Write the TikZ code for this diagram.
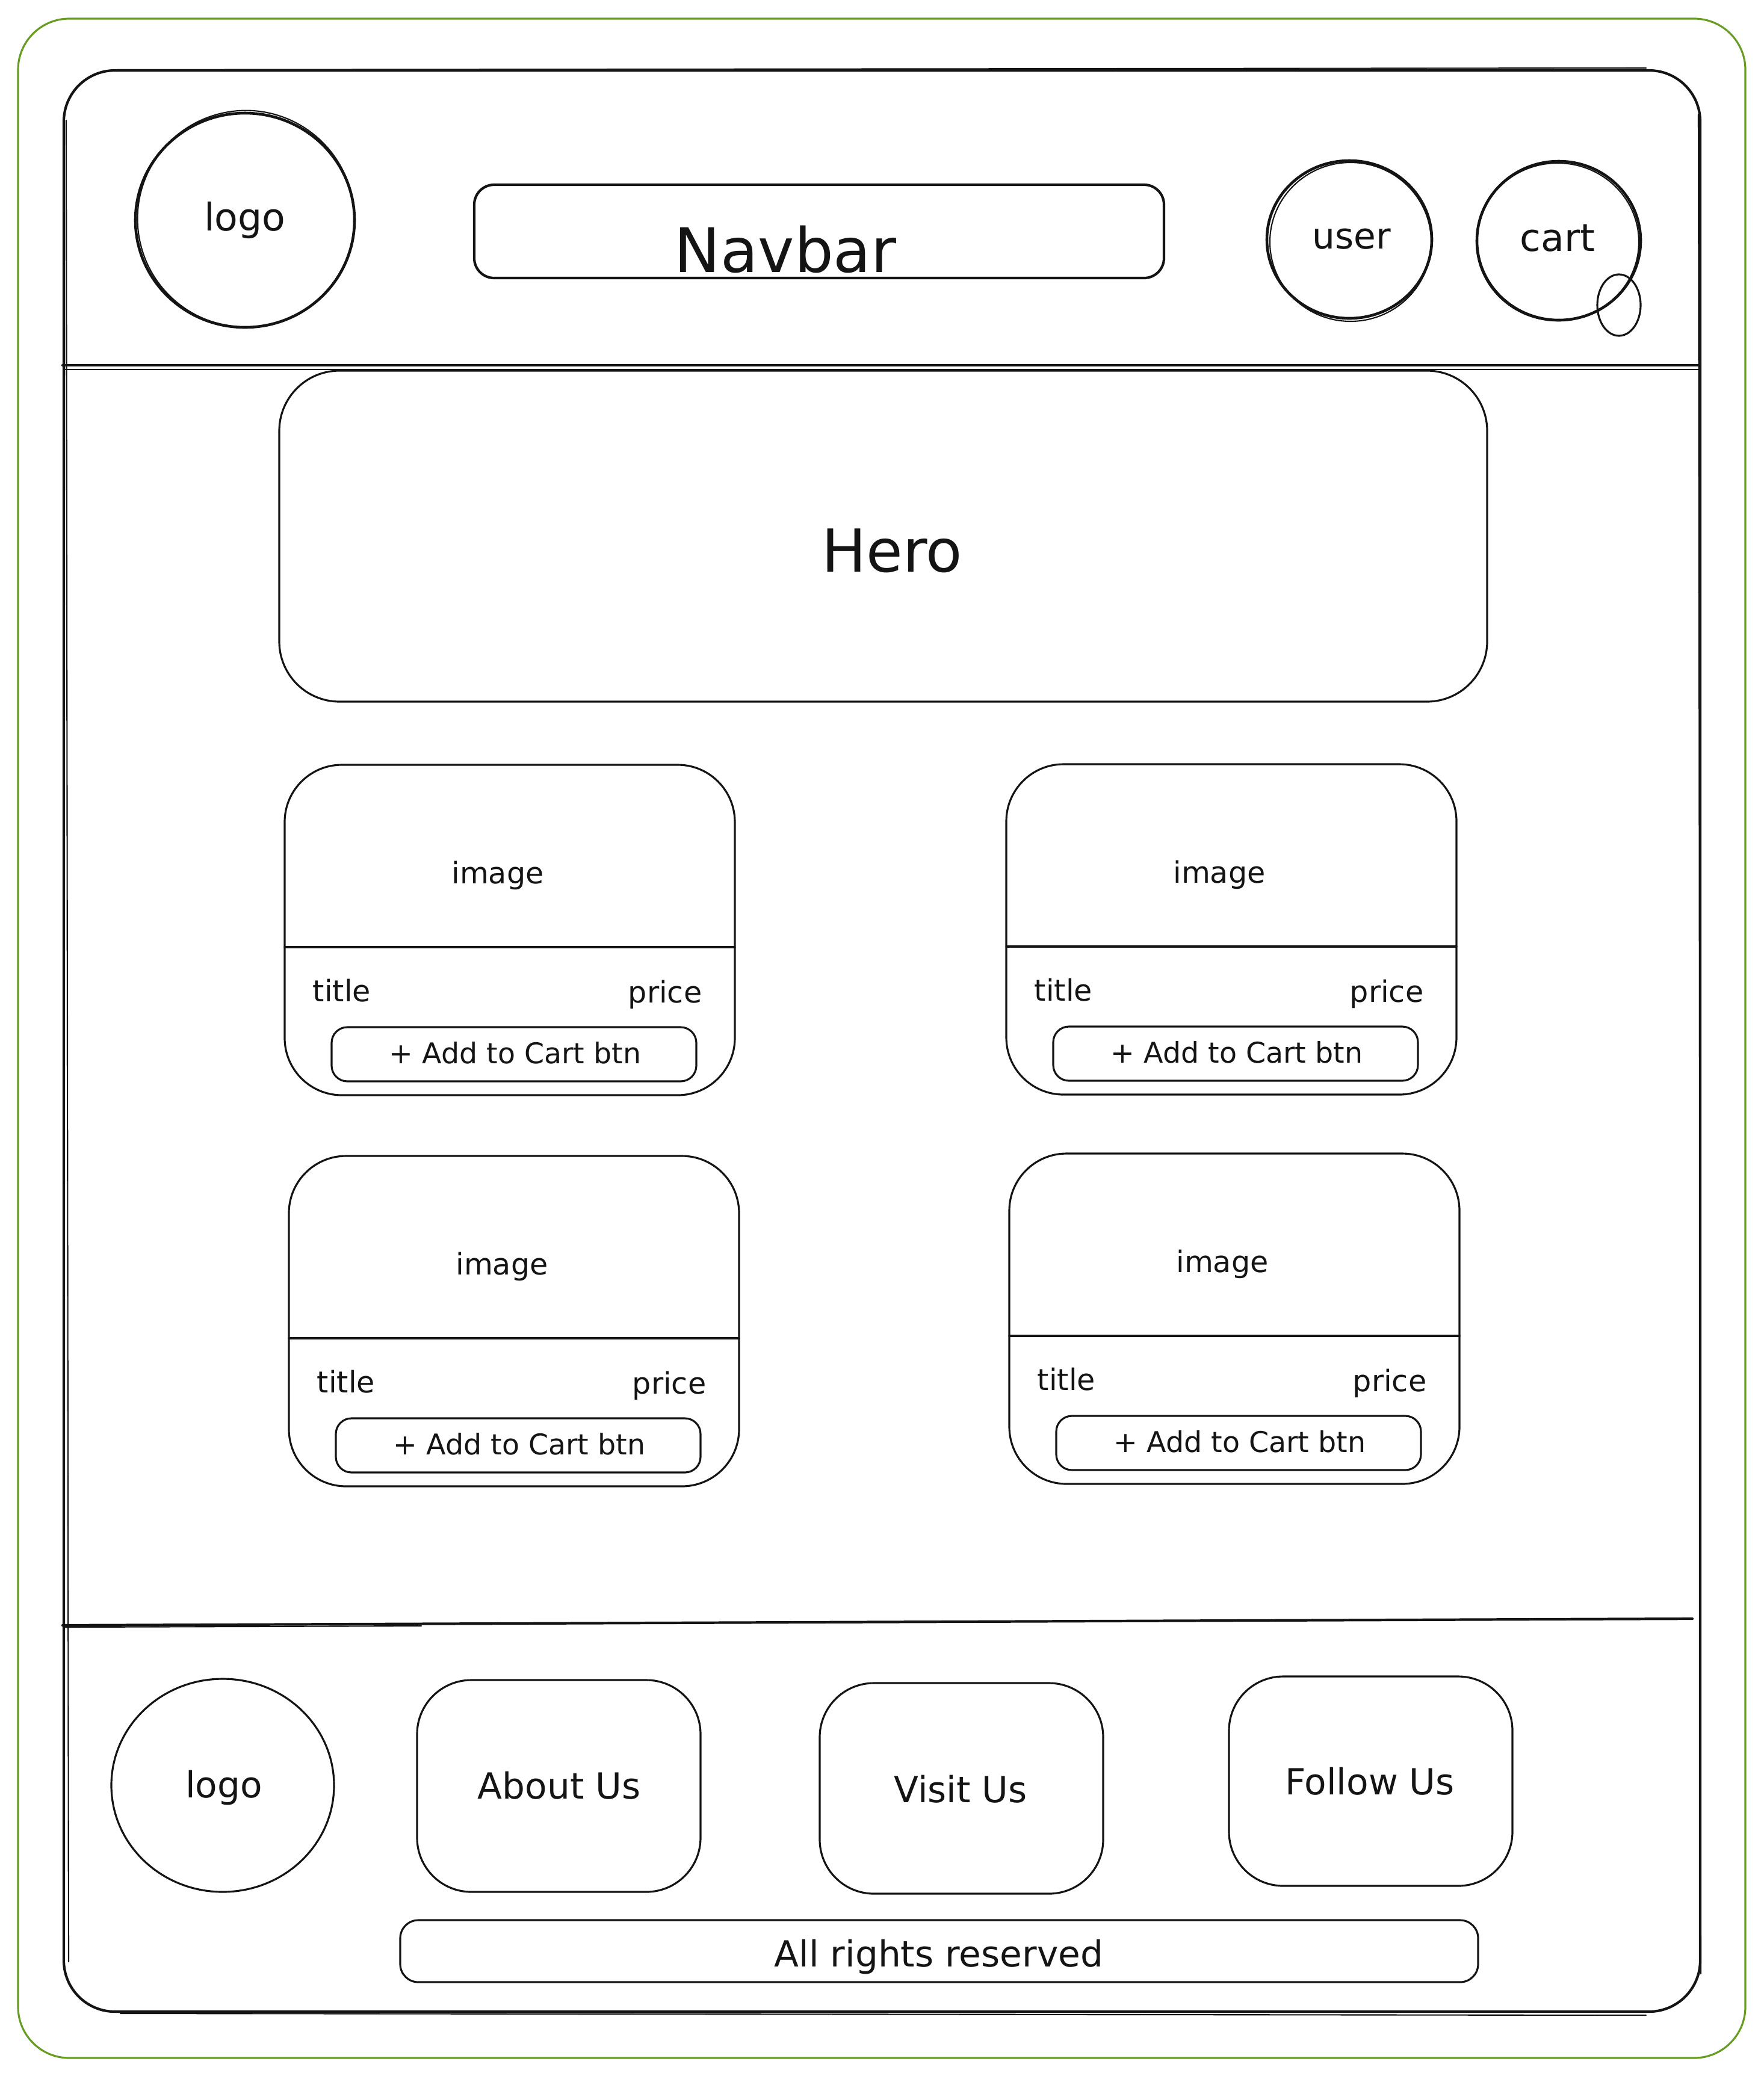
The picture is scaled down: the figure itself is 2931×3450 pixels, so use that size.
\documentclass[tikz,border=0pt]{standalone}
\usepackage{fontspec}
\setmainfont{DejaVu Sans}
\definecolor{greenc}{RGB}{104,156,34}
\definecolor{ink}{RGB}{20,20,20}
\tikzset{
  frame/.style={draw=ink, line width=1.2pt},
  boxline/.style={draw=ink, line width=0.9pt},
  sketch/.style={draw=ink, line width=0.6pt},
  lbl/.style={anchor=base, text=ink, inner sep=0pt},
}
\newcommand\prodcard[3]{%
  \draw[boxline, rounded corners=0.95cm] (#2,#3) rectangle ++(748,549);
  \draw[boxline] (#2,#3+303) -- ++(748,0);
  \draw[boxline, rounded corners=0.26cm] (#2+78,#3+436) rectangle ++(606,90);
  \node[lbl, font=\fontsize{14}{16}\selectfont] (#1img) at (#2+354,#3+197) {image};
  \node[lbl, font=\fontsize{14}{16}\selectfont] (#1title) at (#2+95,#3+393) {title};
  \node[lbl, font=\fontsize{14}{16}\selectfont] (#1price) at (#2+632,#3+395) {price};
  \node[lbl, font=\fontsize{13.5}{16}\selectfont] (#1btn) at (#2+383,#3+496) {+ Add to Cart btn};
}
\begin{document}
\begin{tikzpicture}[x=0.01cm, y=-0.01cm, line join=round, line cap=round]
\useasboundingbox (0,0) rectangle (2931,3450);
\fill[white] (0,0) rectangle (2931,3450);
% outer green frame
\draw[greenc, line width=0.9pt, rounded corners=0.85cm] (30,31) rectangle (2900,3420);
% page frame
\draw[frame, rounded corners=0.85cm] (106,117) rectangle (2825,3343);
\draw[sketch] (195,116) -- (2735,113);
\draw[sketch] (110,200) -- (114,3260);
\draw[sketch] (2822,190) -- (2826,3280);
\draw[sketch] (200,3346) -- (2735,3349);
% header separator (double stroke)
\draw[frame] (104,607) -- (2825,607);
\draw[sketch] (106,614) -- (2825,614);
% footer separator
\draw[frame] (104,2701) -- (2812,2690);
\draw[sketch] (106,2704) -- (700,2702);
% header logo
\draw[draw=ink, line width=1.3pt] (407,366) ellipse [x radius=182, y radius=178];
\draw[sketch, rotate around={12:(407,366)}] (409,364) ellipse [x radius=180, y radius=180];
\node[lbl, font=\fontsize{18}{20}\selectfont] (hlogo) at (407,383) {logo};
% navbar
\draw[draw=ink, line width=1.2pt, rounded corners=0.33cm] (788,307) rectangle (1934,462);
\node[lbl, font=\fontsize{29}{32}\selectfont] (navbar) at (1305,452) {Navbar};
% user
\draw[draw=ink, line width=1.3pt] (2242,398) ellipse [x radius=137, y radius=131];
\draw[sketch] (2244,402) ellipse [x radius=134, y radius=132];
\node[lbl, font=\fontsize{17}{20}\selectfont] (user) at (2246,413) {user};
% cart
\draw[draw=ink, line width=1.3pt] (2590,400) ellipse [x radius=136, y radius=132];
\draw[sketch] (2588,402) ellipse [x radius=135, y radius=131];
\node[lbl, font=\fontsize{18}{20}\selectfont] (cart) at (2588,417) {cart};
\draw[boxline] (2690,507) ellipse [x radius=36, y radius=51];
% hero
\draw[boxline, rounded corners=1cm] (464,616) rectangle (2471,1166);
\node[lbl, font=\fontsize{28}{32}\selectfont] (hero) at (1482,950) {Hero};
% product cards
\prodcard{ca}{473}{1271}
\prodcard{cb}{1672}{1270}
\prodcard{cc}{480}{1921}
\prodcard{cd}{1677}{1917}
% footer
\draw[boxline] (370,2967) ellipse [x radius=185, y radius=177];
\node[lbl, font=\fontsize{17}{20}\selectfont] (flogo) at (372,2987) {logo};
\draw[boxline, rounded corners=0.9cm] (693,2792) rectangle (1164,3144);
\node[lbl, font=\fontsize{17}{20}\selectfont] (about) at (929,2989) {About Us};
\draw[boxline, rounded corners=0.9cm] (1362,2797) rectangle (1833,3147);
\node[lbl, font=\fontsize{17}{20}\selectfont] (visit) at (1596,2995) {Visit Us};
\draw[boxline, rounded corners=0.9cm] (2042,2786) rectangle (2513,3134);
\node[lbl, font=\fontsize{17}{20}\selectfont] (follow) at (2276,2982) {Follow Us};
\draw[boxline, rounded corners=0.3cm] (665,3191) rectangle (2456,3294);
\node[lbl, font=\fontsize{17}{20}\selectfont] (rights) at (1560,3268) {All rights reserved};
\end{tikzpicture}
\end{document}
